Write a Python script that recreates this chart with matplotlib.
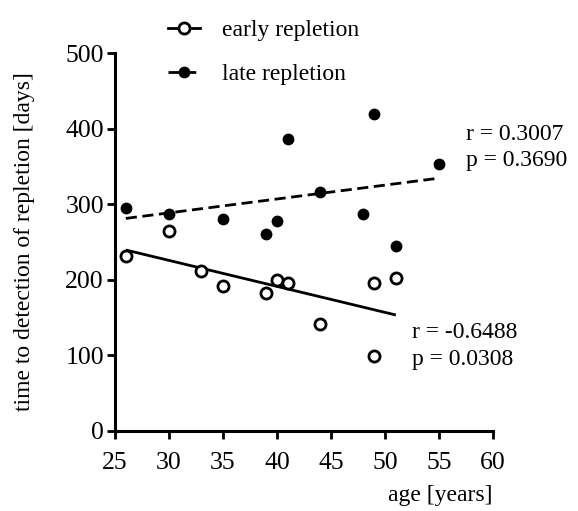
import numpy as np
import matplotlib
matplotlib.use("Agg")
import matplotlib.pyplot as plt
from matplotlib.lines import Line2D

plt.rcParams['font.family'] = ['Liberation Serif', 'DejaVu Serif']

# age [years] and time to detection of repletion [days]
early_age = [26, 30, 33, 35, 39, 40, 41, 44, 49, 49, 51]
early_days = [231, 265, 212, 192, 182, 199, 195, 141, 195, 99, 202]
late_age = [26, 30, 35, 39, 40, 41, 44, 48, 49, 51, 55]
late_days = [295, 287, 281, 261, 278, 386, 316, 287, 420, 245, 353]

early_stats = ["r = -0.6488", "p = 0.0308"]
late_stats = ["r = 0.3007", "p = 0.3690"]

x_ticks = [25, 30, 35, 40, 45, 50, 55, 60]
y_ticks = [0, 100, 200, 300, 400, 500]

FS = 17
TICK_FS = 18.5
LW = 2.0

fig = plt.figure(figsize=(5.78, 5.11), dpi=100)
ax = fig.add_axes([0.199, 0.157, 0.654, 0.739])

# linear regression lines over each group's age range
for ages, days, ls in [(early_age, early_days, '-'), (late_age, late_days, (0, (4, 2)))]:
    slope, intercept = np.polyfit(ages, days, 1)
    xs = np.array([min(ages), max(ages)])
    ax.plot(xs, slope * xs + intercept, color='black', lw=LW, linestyle=ls,
            solid_capstyle='butt', dash_capstyle='butt', zorder=2)

ax.plot(early_age, early_days, linestyle='none', marker='o', ms=8,
        mfc='white', mec='black', mew=2.0, zorder=3)
ax.plot(late_age, late_days, linestyle='none', marker='o', ms=8.5,
        mfc='black', mec='black', mew=0, zorder=3)

ax.set_xlim(25, 60)
ax.set_ylim(0, 500)
ax.set_xticks(x_ticks)
ax.set_yticks(y_ticks)
ax.tick_params(axis='both', labelsize=TICK_FS, width=LW, length=6,
               direction='out')
ax.tick_params(axis='x', pad=9)
ax.tick_params(axis='y', pad=2)
for side in ['top', 'right']:
    ax.spines[side].set_visible(False)
for side in ['left', 'bottom']:
    ax.spines[side].set_linewidth(LW + 0.2)
ax.patch.set_visible(False)

# correlation statistics
ax.text(57.5, 375, late_stats[0] + "\n" + late_stats[1], fontsize=FS,
        ha='left', va='center', linespacing=1.35, clip_on=False)
ax.text(52.5, 112, early_stats[0] + "\n" + early_stats[1], fontsize=FS,
        ha='left', va='center', linespacing=1.35)

ax.set_ylabel("time to detection of repletion [days]", fontsize=FS,
              labelpad=22)
fig.text(0.762, 0.03, "age [years]", fontsize=FS, ha='center', va='center')

handles = [
    Line2D([], [], color='black', lw=LW, marker='o', ms=8, mfc='white',
           mec='black', mew=2.0),
    Line2D([], [], color='black', lw=LW, linestyle=(0, (4, 2)), marker='o',
           ms=8.5, mfc='black', mew=0),
]
fig.legend(handles, ["early repletion", "late repletion"], fontsize=FS,
           frameon=False, loc='upper left', bbox_to_anchor=(0.258, 0.998),
           handlelength=1.35, handletextpad=0.95, labelspacing=0.95,
           borderpad=0.3)

fig.savefig("out.png", dpi=100)
